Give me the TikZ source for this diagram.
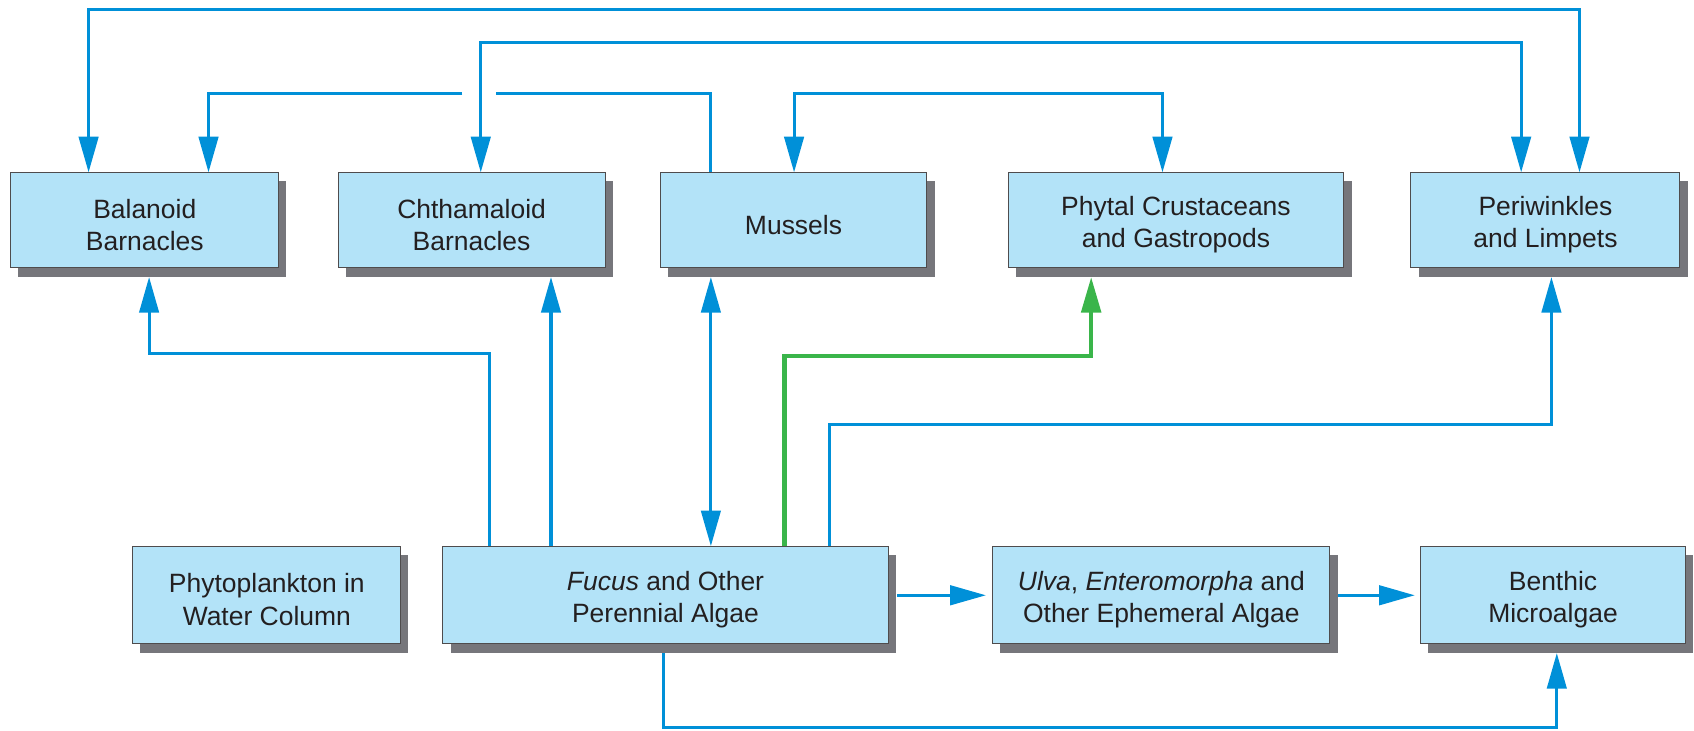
\documentclass[tikz,border=0pt]{standalone}
\usepackage{fontspec}
\setmainfont{Liberation Sans}
\usetikzlibrary{arrows.meta,shadows}
\definecolor{linkblue}{RGB}{0,144,216}
\definecolor{boxfill}{RGB}{179,227,248}
\definecolor{shadegray}{RGB}{118,118,123}
\definecolor{linkgreen}{RGB}{58,181,74}
\definecolor{textgray}{RGB}{35,31,32}
\begin{document}
\begin{tikzpicture}[x=1pt,y=-1pt,
  >={Triangle[length=33pt,width=18pt]},
  box/.style={draw=textgray!80,line width=0.9pt,fill=boxfill,align=center,
    inner sep=0pt,minimum height=88pt,text=textgray,text height=56pt,
    font=\fontsize{24.5}{30}\selectfont,
    general shadow={fill=shadegray,shadow xshift=7pt,shadow yshift=-8pt}},
  link/.style={draw=linkblue,line width=2.8pt},
  greenlink/.style={draw=linkgreen,line width=4pt}]
\useasboundingbox (0,0) rectangle (1568,676);
%%
  % Node: Balanoid
  \node[box,minimum width=248pt] (bal) at (134,204) {Balanoid\\Barnacles};
  % Node: Chthamaloid
  \node[box,minimum width=247pt] (cht) at (436.5,204) {Chthamaloid\\Barnacles};
  % Node: Mussels
  \node[box,minimum width=247pt,text height=26pt] (mus) at (734.5,204) {Mussels};
  % Node: Phytal
  \node[box,minimum width=311pt] (phy) at (1088.5,204) {Phytal Crustaceans\\and Gastropods};
  % Node: Periwinkles
  \node[box,minimum width=249pt] (per) at (1430.5,204) {Periwinkles\\and Limpets};
  % Node: Phytoplankton
  \node[box,minimum width=248pt,minimum height=90pt] (pla) at (247,551) {Phytoplankton in\\Water Column};
  % Node: Fucus
  \node[box,minimum width=412pt,minimum height=90pt] (fuc) at (616,551) {\textit{Fucus} and Other\\Perennial Algae};
  % Node: Ulva
  \node[box,minimum width=312pt,minimum height=90pt] (ulv) at (1075,551) {\textit{Ulva}, \textit{Enteromorpha} and\\Other Ephemeral Algae};
  % Node: Benthic
  \node[box,minimum width=245pt,minimum height=90pt] (ben) at (1437.5,551) {Benthic\\Microalgae};
%
  % Edge: Balanoid <-> Periwinkles
  \draw[link,<->] ([xshift=-52pt]bal.north) -- ++(0,-151) -| ([xshift=31.5pt]per.north);
  % Edge: Chthamaloid <-> Periwinkles
  \draw[link,<->] ([xshift=8.5pt]cht.north) -- ++(0,-120) -| ([xshift=-22.5pt]per.north);
  % Edge: Mussels -> Balanoid
  \draw[link] ([xshift=-76.5pt]mus.north) -- ++(0,-73) -- ++(-199,0);
  \draw[link,->] ([xshift=-76.5pt]mus.north) ++(-230,-73) -| ([xshift=59pt]bal.north);
  % Edge: Mussels <-> Phytal
  \draw[link,<->] ([xshift=0.5pt]mus.north) -- ++(0,-73) -| ([xshift=-12.5pt]phy.north);
  % Edge: Fucus -> Balanoid
  \draw[link,->] ([xshift=-163pt]fuc.north) -- ++(0,-178) -| ([xshift=4pt,yshift=-8pt]bal.south);
  % Edge: Fucus -> Chthamaloid
  \draw[link,->] ([xshift=-106pt]fuc.north) -- ([xshift=73.5pt,yshift=-8pt]cht.south);
  % Edge: Fucus <-> Mussels
  \draw[link,<->] ([xshift=42pt]fuc.north) -- ([xshift=-76.5pt,yshift=-8pt]mus.south);
  % Edge: Fucus -> Phytal
  \draw[greenlink,->] ([xshift=110pt]fuc.north) -- ++(0,-176) -| ([xshift=-78.5pt,yshift=-8pt]phy.south);
  % Edge: Fucus -> Periwinkles
  \draw[link,->] ([xshift=152pt]fuc.north) -- ++(0,-113) -| ([xshift=5.5pt,yshift=-8pt]per.south);
  % Edge: Fucus -> Ulva
  \draw[link,->] ([xshift=8pt]fuc.east) -- ([xshift=-6pt]ulv.west);
  % Edge: Ulva -> Benthic
  \draw[link,->] ([xshift=7pt]ulv.east) -- ([xshift=-5pt]ben.west);
  % Edge: Fucus -> Benthic
  \draw[link,->] ([xshift=-2pt,yshift=-8pt]fuc.south) -- ++(0,69) -| ([xshift=3.5pt,yshift=-8pt]ben.south);
%
\end{tikzpicture}
\end{document}
